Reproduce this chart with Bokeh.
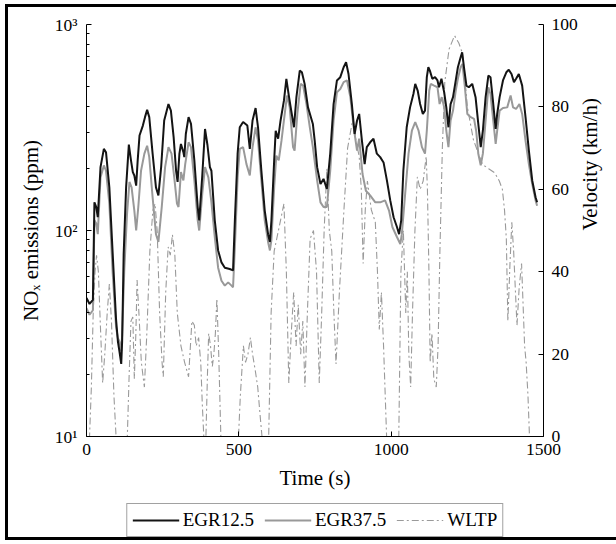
import math
from bokeh.plotting import figure
from bokeh.layouts import column
from bokeh.models import Range1d, LinearAxis, LinearScale, FixedTicker, Legend, LegendItem
from bokeh.embed import file_html
from bokeh.resources import INLINE

# ---- data ----
egr125_t = [0, 10, 21, 26, 32, 37, 46, 57, 64, 75, 86, 97, 103, 108, 114, 117, 122, 130, 139, 146,
            152, 157, 163, 168, 174, 185, 192, 199, 206, 217, 228, 236, 245, 255, 269, 277, 286, 294, 299, 305,
            310, 318, 321, 326, 335, 343, 354, 365, 370, 380, 389, 397, 405, 410, 421, 432, 443, 454, 470, 481,
            487, 496, 503, 514, 528, 536, 545, 555, 563, 574, 585, 596, 602, 607, 616, 621, 629, 637, 648, 656,
            664, 672, 681, 689, 700, 707, 716, 727, 743, 749, 757, 768, 778, 789, 800, 811, 822, 833, 844, 852,
            860, 871, 880, 888, 895, 904, 913, 920, 931, 942, 953, 964, 975, 986, 997, 1008, 1019, 1026, 1033, 1040,
            1051, 1062, 1073, 1079, 1087, 1095, 1104, 1111, 1117, 1122, 1127, 1135, 1144, 1152, 1157, 1165, 1174, 1181, 1188, 1195,
            1203, 1212, 1219, 1228, 1233, 1239, 1247, 1255, 1266, 1277, 1286, 1294, 1301, 1310, 1319, 1326, 1334, 1343, 1348, 1356,
            1367, 1378, 1386, 1395, 1403, 1410, 1419, 1430, 1441, 1452, 1463, 1474, 1479]
egr125_nox = [47, 44, 46, 137, 130, 116, 203, 249, 240, 162, 77, 37, 29, 26, 22.5, 29, 77, 162, 261, 219,
              192, 185, 165, 219, 289, 323, 355, 385, 355, 236, 162, 148, 203, 342, 411, 382, 284, 195, 172, 236,
              263, 240, 227, 294, 355, 329, 219, 130, 112, 185, 311, 260, 203, 195, 112, 80, 70, 66, 65, 64,
              112, 236, 317, 336, 323, 249, 342, 393, 317, 195, 125, 96, 88, 112, 219, 305, 279, 342, 427, 545,
              452, 382, 317, 444, 597, 586, 515, 396, 329, 273, 203, 168, 178, 159, 236, 411, 535, 555, 620, 656,
              575, 411, 294, 342, 368, 273, 210, 254, 268, 279, 236, 227, 214, 175, 140, 116, 104, 96, 112, 195,
              317, 396, 460, 515, 478, 411, 368, 382, 555, 620, 597, 545, 555, 535, 496, 545, 469, 396, 317, 411,
              444, 535, 620, 693, 733, 620, 505, 496, 515, 444, 329, 254, 305, 444, 565, 555, 427, 311, 368, 444,
              535, 586, 603, 575, 525, 545, 575, 505, 355, 244, 175, 145, 137]

egr375_t = [0, 10, 21, 26, 32, 37, 46, 57, 64, 75, 86, 97, 103, 108, 114, 117, 124, 133, 141, 148,
            157, 163, 170, 179, 190, 199, 206, 217, 228, 236, 247, 258, 269, 279, 288, 297, 302, 310, 318, 324,
            335, 343, 354, 365, 370, 380, 389, 400, 410, 421, 432, 443, 454, 465, 476, 481, 487, 496, 503, 514,
            525, 536, 545, 555, 563, 574, 585, 596, 602, 607, 616, 623, 631, 640, 648, 658, 667, 678, 683, 692,
            703, 711, 722, 733, 743, 757, 768, 778, 789, 800, 811, 822, 833, 844, 855, 866, 877, 888, 895, 906,
            917, 931, 948, 964, 980, 993, 1004, 1019, 1030, 1035, 1046, 1057, 1068, 1079, 1090, 1101, 1111, 1117, 1125, 1130,
            1141, 1152, 1159, 1166, 1174, 1181, 1188, 1195, 1203, 1212, 1220, 1228, 1234, 1242, 1250, 1261, 1272, 1279, 1286, 1294,
            1301, 1310, 1319, 1326, 1335, 1343, 1348, 1356, 1367, 1381, 1392, 1400, 1410, 1421, 1430, 1441, 1452, 1463, 1474, 1479]
egr375_nox = [42, 39, 41, 112, 108, 96, 181, 207, 195, 135, 62, 34, 30, 29, 26, 31, 64, 120, 172, 162,
              125, 100, 130, 195, 236, 258, 227, 145, 96, 88, 130, 203, 254, 236, 181, 135, 130, 192, 175, 210,
              268, 254, 175, 112, 100, 151, 203, 181, 137, 93, 66, 57, 54, 56, 54, 53, 83, 181, 249, 254,
              210, 185, 254, 317, 273, 175, 112, 88, 80, 90, 162, 231, 219, 273, 342, 452, 396, 254, 244, 368,
              515, 505, 411, 317, 254, 175, 137, 130, 130, 195, 342, 469, 486, 525, 535, 444, 317, 244, 279, 188,
              156, 148, 137, 137, 140, 125, 104, 93, 86, 96, 151, 236, 305, 336, 305, 254, 236, 305, 478, 515,
              505, 496, 411, 444, 396, 305, 254, 342, 382, 478, 555, 620, 644, 496, 368, 355, 348, 305, 236, 207,
              236, 342, 496, 460, 342, 263, 305, 382, 393, 396, 452, 396, 389, 411, 368, 273, 210, 168, 140, 132]

wltp_t = [0, 10, 16, 22, 28, 33, 39, 45, 53, 60, 68, 75, 82, 90, 97, 134, 140, 146, 152, 157,
          162, 166, 172, 180, 190, 198, 208, 218, 225, 232, 240, 248, 252, 260, 268, 275, 282, 290, 298, 310,
          322, 335, 346, 354, 360, 368, 375, 380, 385, 392, 397, 401, 407, 413, 418, 423, 428, 434, 441, 499,
          505, 515, 522, 530, 538, 545, 554, 562, 570, 576, 598, 606, 616, 630, 648, 656, 664, 672, 680, 688,
          695, 703, 710, 717, 725, 734, 745, 755, 764, 772, 780, 789, 797, 805, 812, 819, 830, 845, 857, 874,
          884, 895, 902, 908, 915, 922, 935, 948, 955, 961, 968, 975, 985, 1025, 1032, 1040, 1048, 1053, 1058, 1064,
          1070, 1078, 1086, 1095, 1105, 1115, 1119, 1124, 1128, 1134, 1140, 1148, 1154, 1160, 1168, 1176, 1190, 1208, 1222, 1234,
          1242, 1250, 1260, 1270, 1285, 1300, 1320, 1340, 1355, 1365, 1372, 1378, 1383, 1390, 1396, 1402, 1408, 1413, 1420, 1428,
          1433, 1438, 1443, 1449, 1454, 1477]
wltp_v = [0, 0, 12, 30, 40, 44, 40, 28, 13, 20, 30, 37, 28, 10, 0, 0, 15, 28, 29, 14,
          25, 38, 30, 18, 12, 25, 45, 55, 56.5, 50, 30, 18, 14.5, 35, 46, 44, 49, 44, 30, 22,
          18, 14.5, 28, 27, 22, 24, 18, 8, 0, 0, 15, 25, 22, 17, 20, 25, 33.5, 20, 0, 0,
          10, 22, 18, 20, 24, 20, 16, 12, 5, 0, 0, 30, 45, 50, 56.5, 40, 13, 25, 35, 22,
          32, 20, 28, 12, 30, 48, 50, 40, 13, 30, 50, 65, 50, 45, 30, 17.6, 35, 55, 70, 77,
          72, 68, 60, 42, 55, 62, 55, 52, 40, 26, 35, 22, 0, 0, 40, 50, 30, 40, 20, 12,
          30, 50, 63, 60, 62, 68, 60, 40, 18, 25, 14, 12, 22, 45, 70, 86, 94, 97.3, 95.5, 93,
          87, 80, 76, 72, 69, 66, 65, 64, 62, 60, 55, 48, 28, 42, 52, 45, 35, 27, 36, 42,
          32, 22, 18, 10, 0, 0]

x_ticks = [0, 500, 1000, 1500]
nox_ticks = [10, 100, 1000]
nox_labels = ["10\u00b9", "10\u00b2", "10\u00b3"]
vel_ticks = [0, 20, 40, 60, 80, 100]
series_names = ["EGR12.5", "EGR37.5", "WLTP"]

FONT = "Liberation Serif"
STY = [dict(line_color="#141414", line_width=2),
       dict(line_color="#999999", line_width=2),
       dict(line_color="#9a9a9a", line_width=1.1, line_dash="7 3 2 3")]

p = figure(width=608, height=491, y_axis_type="log",
           x_range=Range1d(0, 1500), y_range=Range1d(10, 1000),
           output_backend="svg", toolbar_location=None,
           min_border_left=78, min_border_right=72, min_border_top=17, min_border_bottom=62)
p.extra_y_ranges = {"vel": Range1d(0, 100)}
p.extra_y_scales = {"vel": LinearScale()}
p.outline_line_color = None
p.xgrid.visible = False
p.ygrid.visible = False

p.line(wltp_t, wltp_v, y_range_name="vel", **STY[2])
p.line(egr375_t, egr375_nox, **STY[1])
p.line(egr125_t, egr125_nox, **STY[0])

right = LinearAxis(y_range_name="vel", axis_label="Velocity (km/h)")
p.add_layout(right, "right")
right.axis_label_orientation = math.pi / 2

p.xaxis.axis_label = "Time (s)"
p.yaxis[0].axis_label = "NO\u2093 emissions (ppm)"

p.xaxis.ticker = FixedTicker(ticks=x_ticks, minor_ticks=[])
minor = [m * d for d in [10, 100] for m in range(2, 10)]
p.yaxis[0].ticker = FixedTicker(ticks=nox_ticks, minor_ticks=minor)
p.yaxis[0].major_label_overrides = {t: l for t, l in zip(nox_ticks, nox_labels)}
right.ticker = FixedTicker(ticks=vel_ticks, minor_ticks=[])

for ax in [p.xaxis[0], p.yaxis[0], right]:
    ax.axis_line_color = "black"
    ax.axis_line_width = 1
    ax.major_tick_in = 5
    ax.major_tick_out = 0
    ax.minor_tick_in = 3
    ax.minor_tick_out = 0
    ax.major_tick_line_color = "black"
    ax.minor_tick_line_color = "black"
    ax.major_label_text_font = FONT
    ax.major_label_text_font_size = "17.5px"
    ax.major_label_text_color = "black"
    ax.axis_label_text_font = FONT
    ax.axis_label_text_font_size = "21px"
    ax.axis_label_text_font_style = "normal"
    ax.axis_label_text_color = "black"

p.xaxis.major_label_standoff = 7
p.xaxis.axis_label_standoff = 8
p.yaxis[0].major_label_standoff = 9
p.yaxis[0].axis_label_standoff = 9
right.major_label_standoff = 8
right.axis_label_standoff = 9

# legend strip below the chart (its lines are the same series, clipped out of view)
lf = figure(width=608, height=39, output_backend="svg", toolbar_location=None,
            x_range=Range1d(0, 1), y_range=Range1d(-2, -1),
            min_border_left=0, min_border_right=0, min_border_top=4, min_border_bottom=0,
            outline_line_color=None)
lf.axis.visible = False
lf.xgrid.visible = False
lf.ygrid.visible = False
lr = [lf.line(egr125_t, egr125_nox, **STY[0]),
      lf.line(egr375_t, egr375_nox, **STY[1]),
      lf.line(wltp_t, wltp_v, **STY[2])]
legend = Legend(items=[LegendItem(label=n, renderers=[r]) for n, r in zip(series_names, lr)],
                orientation="horizontal", location="center")
legend.label_text_font = FONT
legend.label_text_font_size = "19px"
legend.label_text_color = "black"
legend.border_line_color = "#444444"
legend.border_line_width = 1
legend.glyph_width = 47
legend.glyph_height = 18
legend.label_standoff = 4
legend.spacing = 10
legend.padding = 5
legend.margin = 0
lf.add_layout(legend, "center")

layout = column(p, lf, spacing=0)
layout.styles = {"border-style": "solid none solid solid", "border-width": "3px",
                 "border-color": "black", "margin-left": "5px", "margin-top": "4px"}

open("out.html", "w").write(file_html(layout, INLINE))
